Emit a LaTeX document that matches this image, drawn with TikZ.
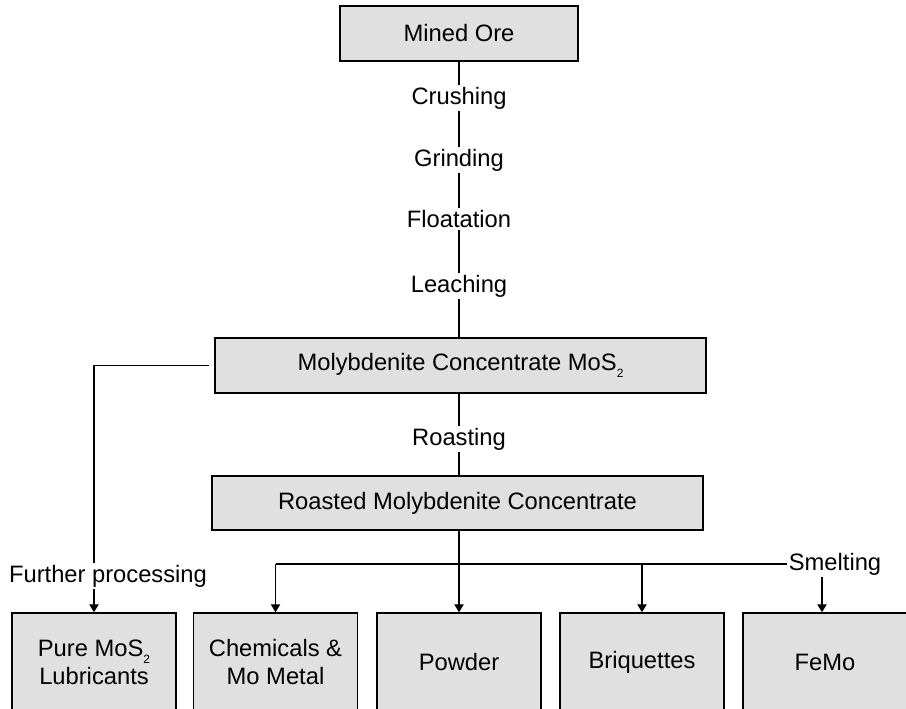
\documentclass[tikz,border=0pt]{standalone}
\usepackage{fontspec}
\setmainfont{Liberation Sans}
\usetikzlibrary{arrows.meta}
\definecolor{boxgray}{RGB}{224,224,224}
\tikzset{every picture/.style={line width=0.75pt}}
\newcommand{\subtwo}{\raisebox{-5.5pt}{\fontsize{9pt}{9pt}\selectfont 2}}

\begin{document}
\begin{tikzpicture}[x=0.75pt,y=0.75pt,yscale=-1,xscale=1,
  font=\fontsize{17.8pt}{21pt}\selectfont,
  procbox/.style={draw=black, fill=boxgray, line width=1.1pt, inner sep=0pt, align=center},
  prodbox/.style={procbox, minimum width=123pt, minimum height=73.5pt},
  steplabel/.style={inner sep=1pt},
  link/.style={line width=1pt},
  arrowlink/.style={link, -{Triangle[length=6pt,width=7pt]}}]
\useasboundingbox (0,0) rectangle (906,709);

%Shape: Rectangle
\node [procbox, minimum width=178.5pt, minimum height=41.25pt] (ore) at (459,33.5) {Mined Ore};
\node [procbox, minimum width=368.25pt, minimum height=41.25pt] (conc) at (460.5,365.5) {Molybdenite Concentrate MoS\subtwo};
\node [procbox, minimum width=368.25pt, minimum height=40.5pt] (roasted) at (457.5,503) {Roasted Molybdenite Concentrate};
% bottom row
\node [prodbox] (pure) at (94,662) {Pure MoS\subtwo\\Lubricants};
\node [prodbox] (chem) at (275.5,662) {Chemicals \&\\Mo Metal};
\node [prodbox] (powder) at (459,662) {Powder};
\node [prodbox] (briq) at (642,662) {Briquettes};
\node [prodbox] (femo) at (825,662) {FeMo};

% Text Node
\node [steplabel] (crush) at (459,98) {Crushing};
\node [steplabel] (grind) at (459,160) {Grinding};
\node [steplabel] (float) at (459,219) {Floatation};
\node [steplabel] (leach) at (459,286) {Leaching};
\node [steplabel] (roast) at (459,439) {Roasting};
\node [steplabel] (further) at (108,576) {Further processing};
\node [steplabel] (smelt) at (835,564) {Smelting};

\coordinate (fp) at (94,365.5);
\coordinate (split) at (275.5,564);
\coordinate (fedrop) at (822,564);

%Straight Lines
\draw [link] (ore) -- (crush) -- (grind) -- (float) -- (leach) -- (leach |- conc.north);
\draw [link] (roast |- conc.south) -- (roast) -- (roast |- roasted.north);
\draw [arrowlink] (roasted.south -| powder.north) -- (powder.north);
\draw [link, shorten <=4] (conc.west) -- (fp) -- (fp |- further.north);
\draw [arrowlink] (fp |- further.south) -- (pure.north);
\draw [link] (smelt.west) -- (split);
\draw [arrowlink] (split) -- (chem.north);
\draw [arrowlink] (briq.north |- split) -- (briq.north);
\draw [arrowlink] (fedrop |- smelt.south) -- (fedrop |- femo.north);

\end{tikzpicture}
\end{document}
